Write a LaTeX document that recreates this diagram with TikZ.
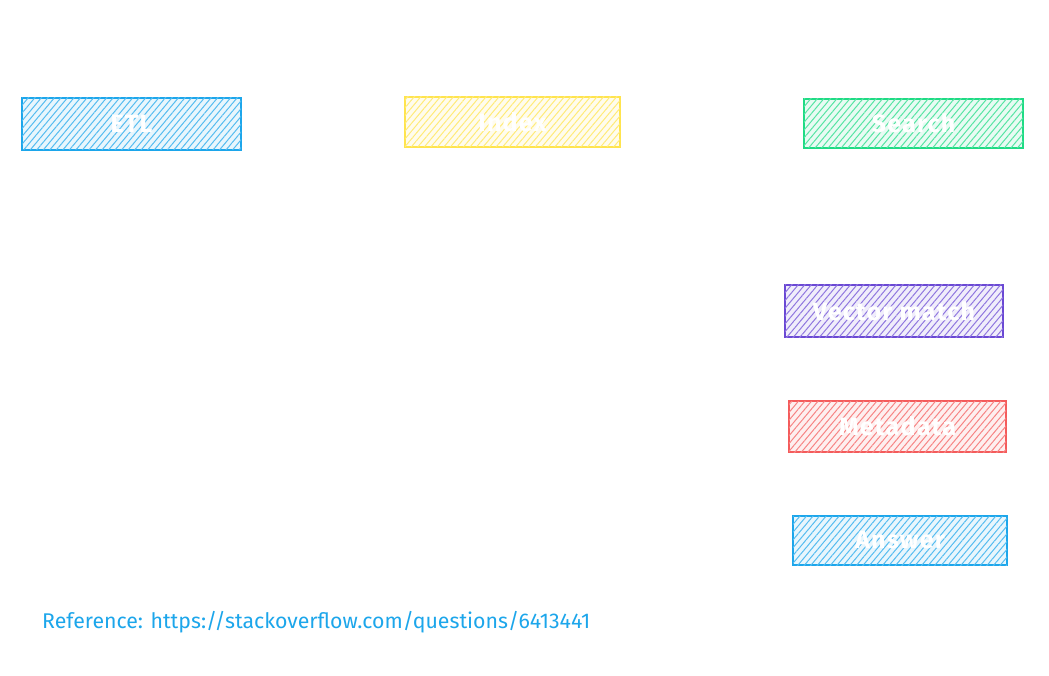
\documentclass[tikz,border=0pt]{standalone}
\usepackage{fontspec}
\setmainfont{Fira Sans}
\usetikzlibrary{patterns.meta}
\definecolor{cblue}{HTML}{1CA6EB}
\definecolor{cyellow}{HTML}{FFE44D}
\definecolor{cgreen}{HTML}{1EDB84}
\definecolor{cpurple}{HTML}{6A48D4}
\definecolor{cred}{HTML}{F45B5B}
\tikzset{
  stagebox/.style={draw=#1, line width=1.4pt, fill=#1!10,
    postaction={pattern={Lines[angle=50,distance=5pt,line width=1pt]}, pattern color=#1!75},
    text=white, font=\fontsize{25}{30}\selectfont\bfseries\addfontfeatures{LetterSpace=5}, inner sep=0pt}
}
\begin{document}
\begin{tikzpicture}[x=1pt,y=-1pt]
  \useasboundingbox (0,0) rectangle (1049,676);
  \fill[white] (0,0) rectangle (1049,676);
  % pipeline stages
  \draw[stagebox=cblue]   (22,98)  rectangle node (etl) {ETL} (241,150);
  \draw[stagebox=cyellow] (405,97) rectangle node (index) {Index} (620,147);
  \draw[stagebox=cgreen]  (804,99) rectangle node (search) {Search} (1023,148);
  \draw[stagebox=cpurple] (785,285) rectangle node (vmatch) {Vector match} (1003,337);
  \draw[stagebox=cred]    (789,401) rectangle node (meta) {Metadata} (1006,452);
  \draw[stagebox=cblue]   (793,516) rectangle node (answer) {Answer} (1007,565);
  % source note
  \node[anchor=west, text=cblue, font=\fontsize{21.3}{25}\selectfont, inner sep=0pt] (ref) at (42,622)
    {Reference: https://stackoverflow.com/questions/6413441};
\end{tikzpicture}
\end{document}
